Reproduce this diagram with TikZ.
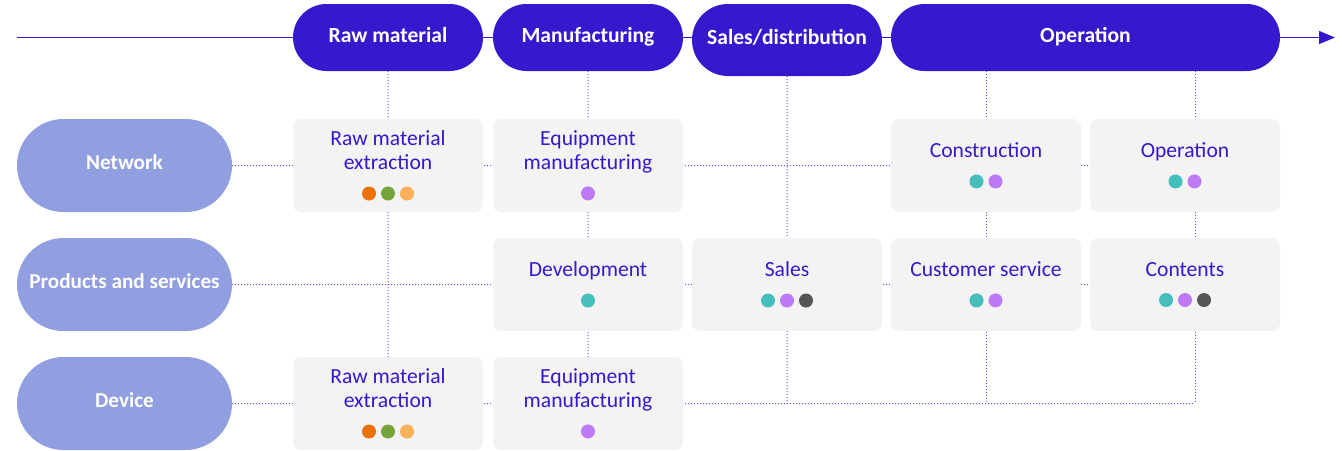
\documentclass[tikz,border=0pt]{standalone}
\usepackage{fontspec}
\setmainfont{Carlito}
\usetikzlibrary{arrows.meta,positioning,shapes.misc,calc,backgrounds}
\definecolor{phaseBlue}{RGB}{56,24,204}
\definecolor{rowLavender}{RGB}{145,158,223}
\definecolor{cellGray}{RGB}{242,243,242}
\definecolor{lineBlue}{RGB}{100,80,230}
\definecolor{dotOrange}{RGB}{236,112,8}
\definecolor{dotGreen}{RGB}{118,164,58}
\definecolor{dotPeach}{RGB}{252,176,90}
\definecolor{dotViolet}{RGB}{190,122,246}
\definecolor{dotTeal}{RGB}{70,190,188}
\definecolor{dotGray}{RGB}{85,85,85}
\newcommand\boxfont{\fontsize{10.8pt}{12pt}\selectfont}
\newcommand\dotrow[1]{\tikz[baseline=-3pt]{\foreach \col [count=\i] in {#1} \fill[\col] (\i*9.5pt,0) circle (3.5pt);}}

\begin{document}
\begin{tikzpicture}[x=0.5pt, y=-0.5pt,
  every node/.style={outer sep=0pt},
  phase/.style={rounded rectangle, fill=phaseBlue, text=white, font=\boxfont\bfseries,
                minimum width=95pt, minimum height=33.5pt, inner sep=0pt,
                text height=7pt, text depth=2.2pt},
  area/.style={rounded rectangle, fill=rowLavender, text=white,
               font=\fontsize{10.6pt}{12pt}\selectfont\bfseries,
               minimum width=107.5pt, minimum height=46.5pt, inner sep=0pt,
               text height=7pt, text depth=3.2pt},
  cell/.style={rectangle, rounded corners=4pt, fill=cellGray, text=phaseBlue, font=\boxfont,
               align=center, minimum width=95pt, minimum height=46.5pt, inner sep=0pt},
  link/.style={lineBlue, line width=0.5pt, densely dotted},
  timeline/.style={phaseBlue, line width=0.75pt, -{Triangle[length=8pt,width=6.5pt]}}
]
  \useasboundingbox (0,0) rectangle (1342,450);

  % rows
  \node[area] (net) at (124.5,165.5) {Network};
  \node[area, below=13pt of net]  (prod) {Products and services};
  \node[area, below=13pt of prod] (dev)  {Device};

  % cells
  \node[cell, right=30.5pt of net]  (netraw)  {Raw material\\extraction\\[3pt]\dotrow{dotOrange,dotGreen,dotPeach}};
  \node[cell, right=5pt of netraw]  (netman)  {Equipment\\manufacturing\\[3pt]\dotrow{dotViolet}};
  \node[cell, below=13pt of netman] (prodev)  {Development\\[3pt]\dotrow{dotTeal}};
  \node[cell, right=4.5pt of prodev]  (prodsal) {Sales\\[3pt]\dotrow{dotTeal,dotViolet,dotGray}};
  \node[cell, right=4.5pt of prodsal] (prodcs)  {Customer service\\[3pt]\dotrow{dotTeal,dotViolet}};
  \node[cell, right=4.5pt of prodcs]  (prodcnt) {Contents\\[3pt]\dotrow{dotTeal,dotViolet,dotGray}};
  \node[cell, above=13pt of prodcs]  (netcon) {Construction\\[3pt]\dotrow{dotTeal,dotViolet}};
  \node[cell, above=13pt of prodcnt] (netop)  {Operation\\[3pt]\dotrow{dotTeal,dotViolet}};
  \node[cell, right=30.5pt of dev]  (devraw)  {Raw material\\extraction\\[3pt]\dotrow{dotOrange,dotGreen,dotPeach}};
  \node[cell, right=5pt of devraw]  (devman)  {Equipment\\manufacturing\\[3pt]\dotrow{dotViolet}};

  % phases
  \coordinate (tl) at (0,37.5);
  \coordinate (opmid) at ($(netcon)!0.5!(netop)$);
  \node[phase] (hraw) at (netraw |- tl) {Raw material};
  \node[phase] (hman) at (netman |- tl) {Manufacturing};
  \node[phase, minimum height=36pt] (hsal) at ($(prodsal |- tl)+(0,2.5)$) {Sales/distribution};
  \node[phase, minimum width=194.5pt] (hop) at (opmid |- tl) {Operation};

  \coordinate (tlstart) at (17,37.5);
  \coordinate (tlend) at (1335,37.5);
  \coordinate (opx) at ([xshift=5pt]netop.center);

  \begin{scope}[on background layer]
    \draw[timeline] (tlstart) -- (tlend);
    \draw[link] (net) -- (netop);
    \draw[link] (prod) -- (prodcnt);
    \draw[link] (dev) -- (opx |- dev);
    \draw[link] (hraw) -- (devraw);
    \draw[link] (hman) -- (devman);
    \draw[link] (hsal) -- (hsal |- dev);
    \draw[link] (netcon |- hop) -- (netcon |- dev);
    \draw[link] (opx |- hop) -- (opx |- dev);
  \end{scope}
\end{tikzpicture}
\end{document}
